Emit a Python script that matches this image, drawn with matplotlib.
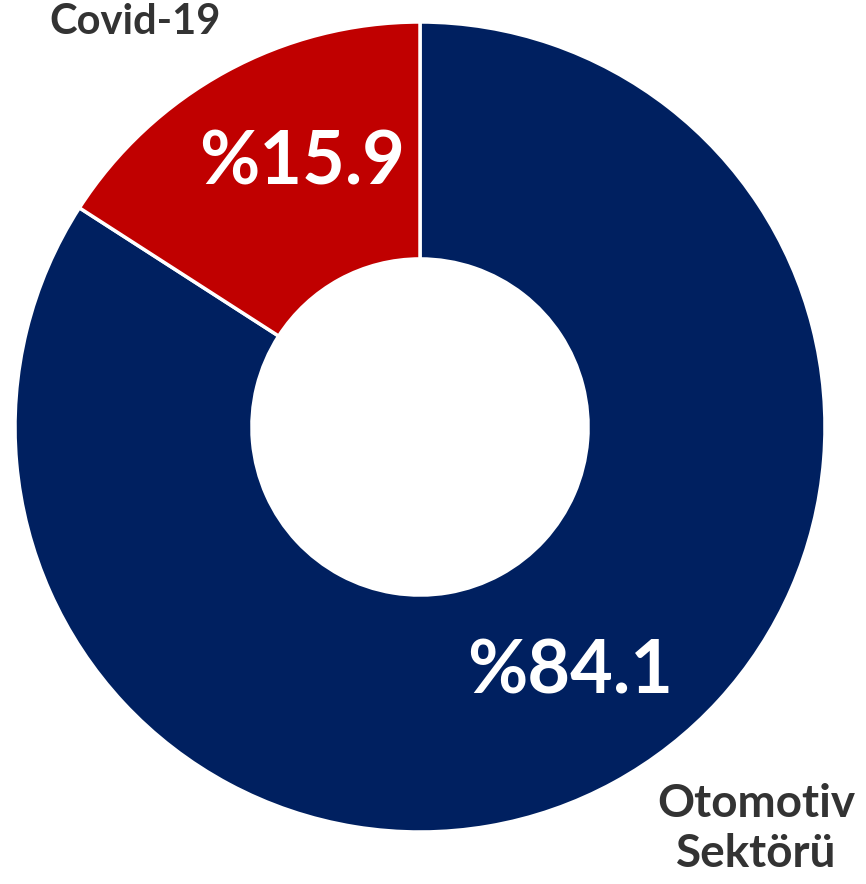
import matplotlib
matplotlib.use("Agg")
import matplotlib.pyplot as plt

labels = ["Otomotiv\nSektörü", "Covid-19"]
values = [84.1, 15.9]
colors = ["#002060", "#C00000"]
pct_text = ["%84.1", "%15.9"]

W, H = 866, 884
R = 405.0          # outer radius in pixels
cx, cy = 420, 427  # centre (from top-left)

fig = plt.figure(figsize=(W / 100, H / 100), dpi=100, facecolor="white")
ax = fig.add_axes([0, 0, 1, 1])

ax.pie(values, colors=colors, startangle=90, counterclock=False, radius=1.0,
       wedgeprops=dict(width=0.585, edgecolor="white", linewidth=2.5))

# pie() resets limits/aspect, so map pixels to data afterwards
ax.set_aspect("auto")
ax.set_xlim(-cx / R, (W - cx) / R)
ax.set_ylim(-(H - cy) / R, cy / R)
ax.axis("off")

font = "Lato"
# value labels
ax.text((570 - cx) / R, (cy - 672) / R, pct_text[0], color="white", fontsize=53,
        fontweight="bold", family=font, ha="center", va="center")
ax.text((302 - cx) / R, (cy - 163) / R, pct_text[1], color="white", fontsize=53,
        fontweight="bold", family=font, ha="center", va="center")

# category labels
ax.text((135 - cx) / R, (cy - 22) / R, labels[1], color="#333333", fontsize=30,
        fontweight="bold", family=font, ha="center", va="center")
ax.text((756 - cx) / R, (cy - 829) / R, labels[0], color="#333333", fontsize=33,
        fontweight="bold", family=font, ha="center", va="center", linespacing=1.25)

fig.savefig("out.png", dpi=100, facecolor="white")
